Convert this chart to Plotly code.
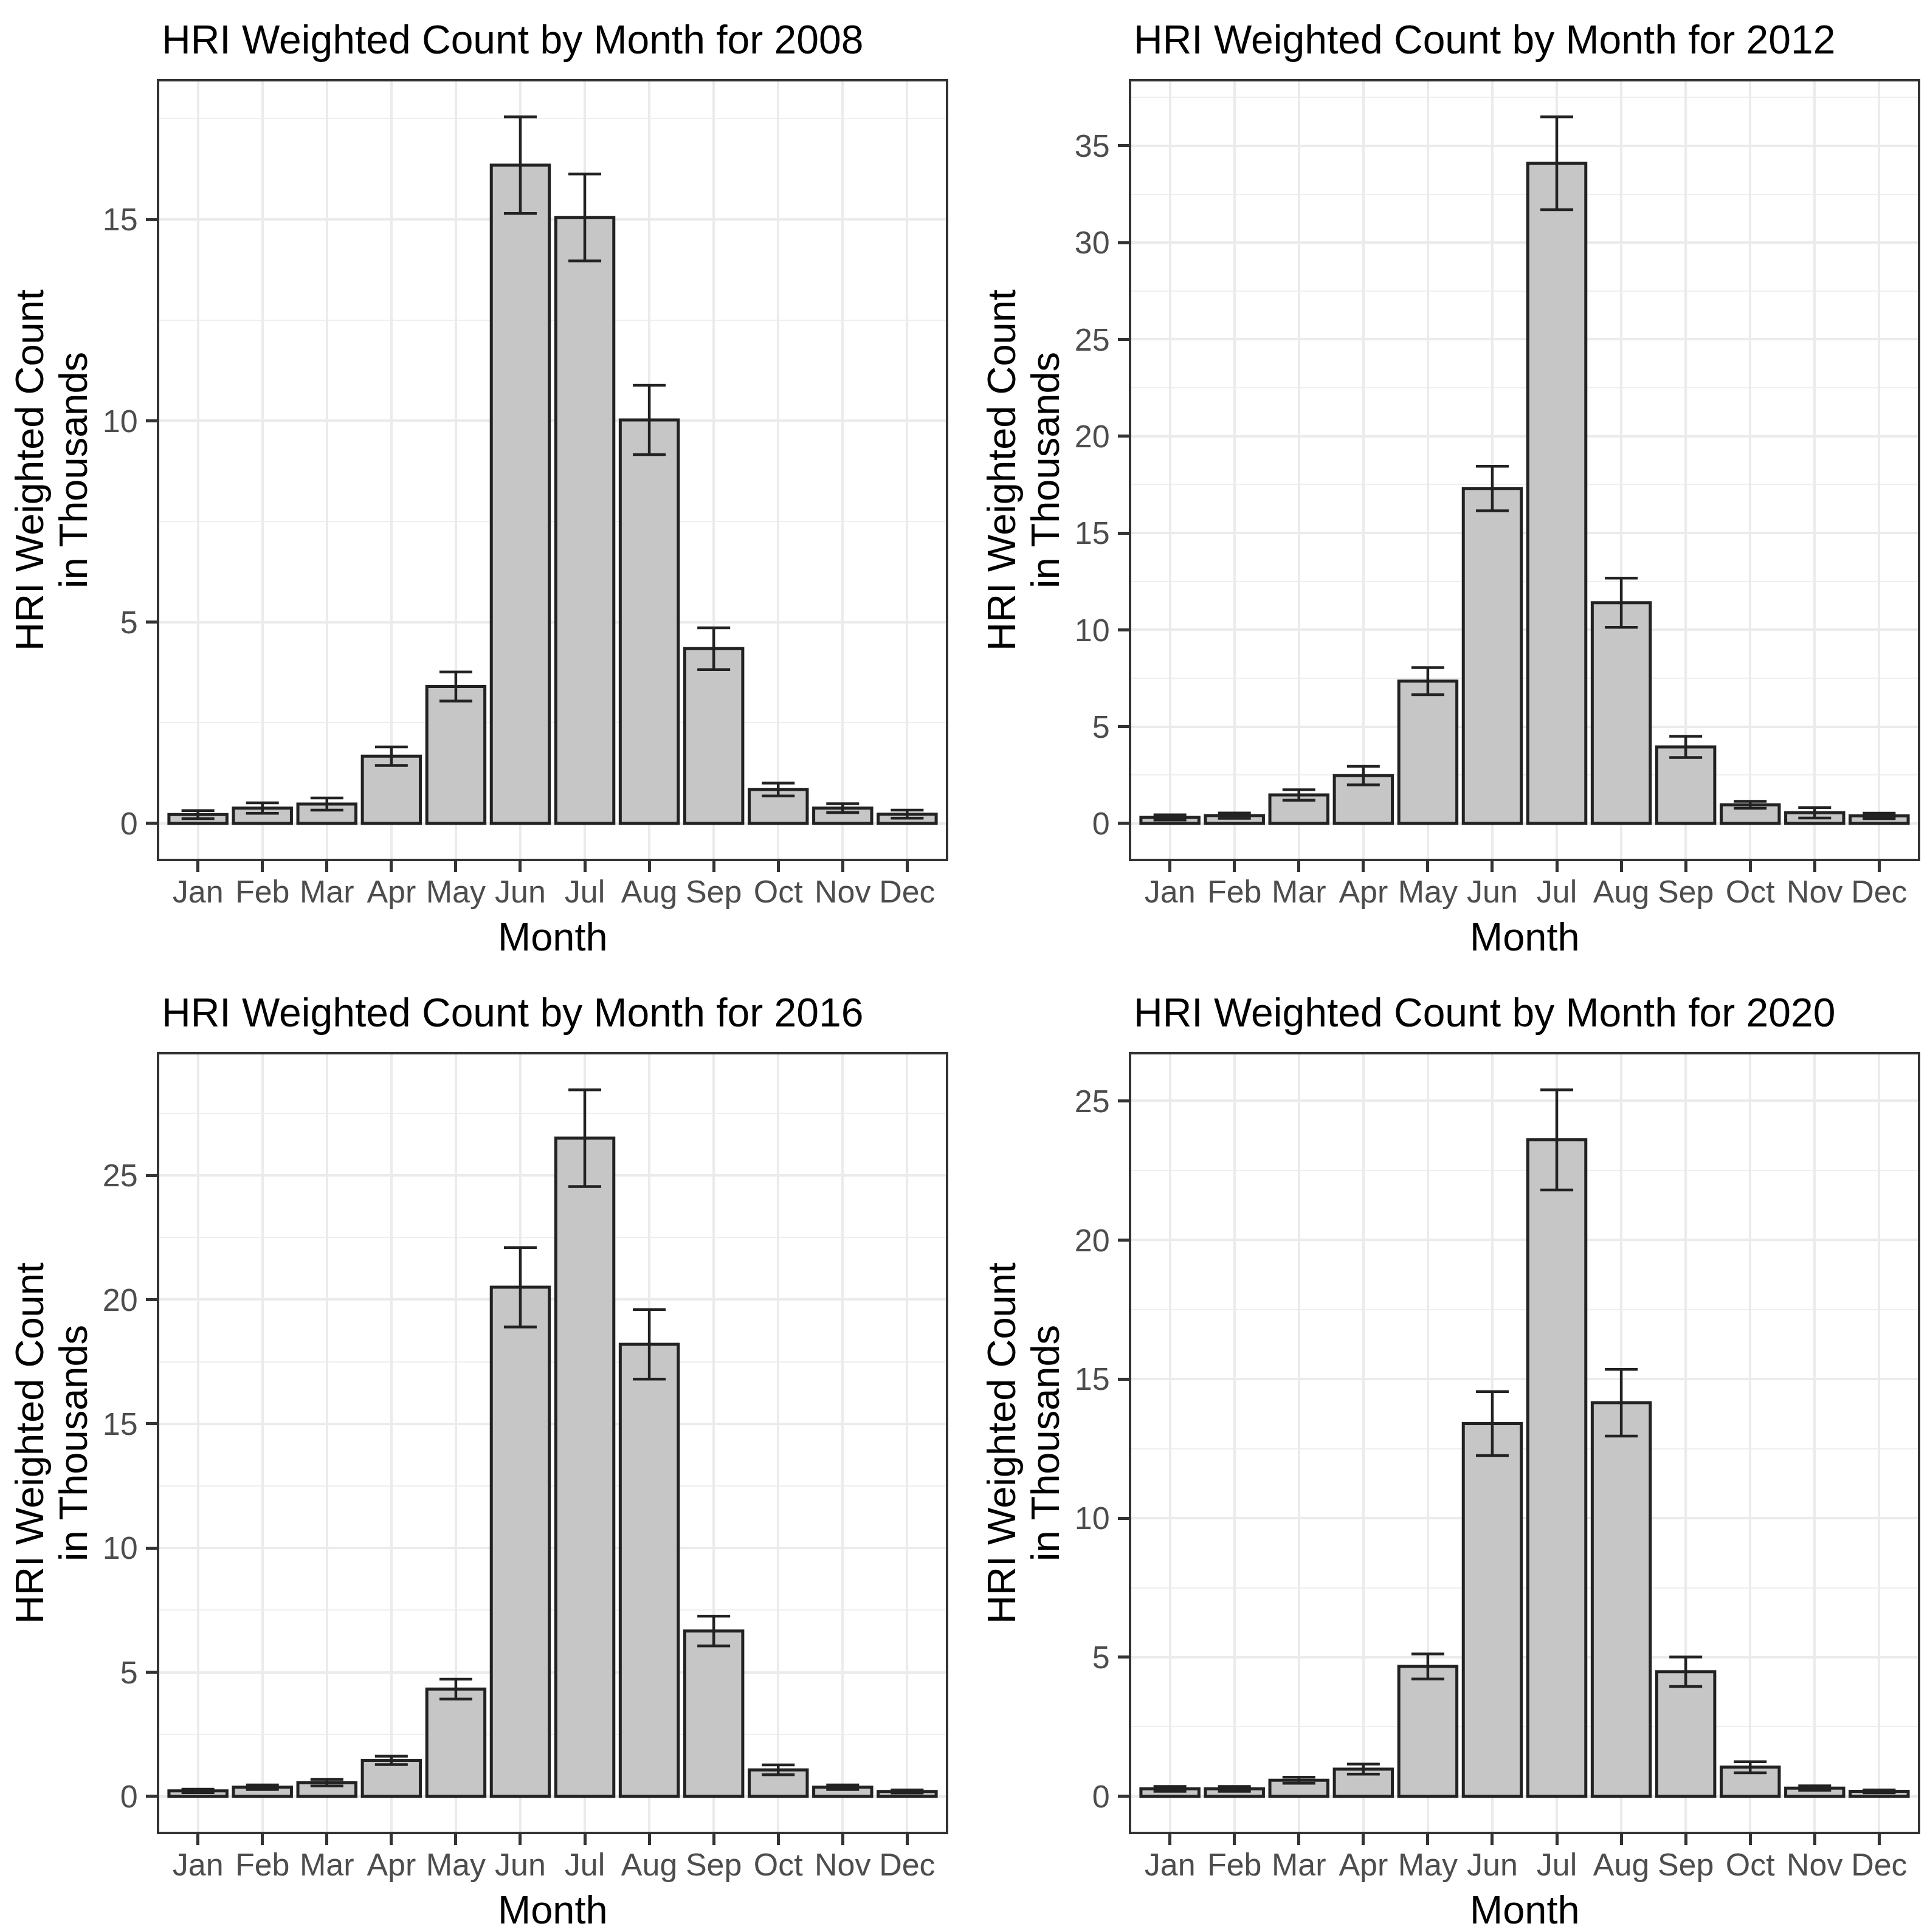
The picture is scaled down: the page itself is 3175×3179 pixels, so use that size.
import plotly.graph_objects as go

months = ["Jan", "Feb", "Mar", "Apr", "May", "Jun", "Jul", "Aug", "Sep", "Oct", "Nov", "Dec"]
years = ["2008", "2012", "2016", "2020"]

vals_2008 = [0.22, 0.38, 0.48, 1.67, 3.40, 16.35, 15.05, 10.02, 4.34, 0.84, 0.38, 0.23]
errs_2008 = [0.10, 0.13, 0.15, 0.23, 0.36, 1.20, 1.08, 0.86, 0.52, 0.16, 0.11, 0.10]

vals_2012 = [0.31, 0.40, 1.47, 2.47, 7.35, 17.30, 34.10, 11.40, 3.95, 0.96, 0.55, 0.39]
errs_2012 = [0.13, 0.14, 0.27, 0.48, 0.70, 1.15, 2.40, 1.27, 0.55, 0.18, 0.27, 0.14]

vals_2016 = [0.22, 0.37, 0.55, 1.45, 4.32, 20.50, 26.50, 18.20, 6.66, 1.07, 0.37, 0.20]
errs_2016 = [0.07, 0.09, 0.13, 0.17, 0.40, 1.60, 1.95, 1.40, 0.60, 0.20, 0.09, 0.06]

vals_2020 = [0.27, 0.27, 0.58, 0.98, 4.67, 13.40, 23.60, 14.15, 4.48, 1.05, 0.30, 0.18]
errs_2020 = [0.09, 0.09, 0.11, 0.18, 0.45, 1.15, 1.80, 1.20, 0.53, 0.20, 0.08, 0.05]

series = [(vals_2008, errs_2008), (vals_2012, errs_2012), (vals_2016, errs_2016), (vals_2020, errs_2020)]

W, H = 3175, 3179
FONT = "Liberation Sans, Arial, sans-serif"

# panel pixel boxes
COL_OFF = 1599
ROW_OFF = 1601
col_x = [(254, 1548), (254 + COL_OFF, 1548 + COL_OFF)]
row_y = [(126, 1405), (126 + ROW_OFF, 1405 + ROW_OFF)]

fig = go.Figure()
annotations = []

for i, (yr, (vals, errs)) in enumerate(zip(years, series)):
    r, c = divmod(i, 2)
    n = i + 1
    xa = "x" if n == 1 else f"x{n}"
    ya = "y" if n == 1 else f"y{n}"
    fig.add_trace(go.Bar(
        x=months, y=vals, xaxis=xa, yaxis=ya, width=0.9,
        marker=dict(color="#C6C6C6", line=dict(color="#222222", width=5)),
        error_y=dict(type="data", array=errs, visible=True, color="#222222",
                     thickness=4.5, width=27),
        showlegend=False, hoverinfo="skip",
    ))
    top = max(v + e for v, e in zip(vals, errs))
    yrange = [-0.05 * top, 1.05 * top]
    x0, x1 = col_x[c]
    y0, y1 = row_y[r]
    xkey = "xaxis" if n == 1 else f"xaxis{n}"
    ykey = "yaxis" if n == 1 else f"yaxis{n}"
    fig.layout[xkey] = dict(
        domain=[x0 / W, x1 / W], anchor=ya, type="category",
        range=[-0.6, 11.6], showgrid=True, gridcolor="#EBEBEB", gridwidth=3.5,
        showline=True, mirror=True, linecolor="#333333", linewidth=4,
        ticks="outside", ticklen=18, tickwidth=4.5, tickcolor="#333333",
        tickfont=dict(family=FONT, size=52, color="#4D4D4D"),
        ticklabelstandoff=-12,
        zeroline=False, fixedrange=True,
    )
    fig.layout[ykey] = dict(
        domain=[1 - y1 / H, 1 - y0 / H], anchor=xa, range=yrange,
        dtick=5, tick0=0, showgrid=True, gridcolor="#EBEBEB", gridwidth=3.5,
        minor=dict(dtick=2.5, tick0=0, showgrid=True, gridcolor="#EFEFEF", gridwidth=1.8),
        showline=True, mirror=True, linecolor="#333333", linewidth=4,
        ticks="outside", ticklen=18, tickwidth=4.5, tickcolor="#333333",
        tickfont=dict(family=FONT, size=52, color="#4D4D4D"),
        ticklabelstandoff=3,
        zeroline=False, fixedrange=True,
    )
    # panel title (baseline 80 px; middle = baseline - 0.3465 em)
    annotations.append(dict(
        text=f"HRI Weighted Count by Month for {yr}", xref="paper", yref="paper",
        x=(256 + c * COL_OFF) / W, y=1 - (57 + r * ROW_OFF) / H,
        xanchor="left", yanchor="middle",
        showarrow=False, font=dict(family=FONT, size=66, color="#000000"),
    ))
    # x-axis title (baseline 1556 px)
    annotations.append(dict(
        text="Month", xref="paper", yref="paper",
        x=((x0 + x1) / 2) / W, y=1 - (1533.5 + r * ROW_OFF) / H,
        xanchor="center", yanchor="middle", showarrow=False,
        font=dict(family=FONT, size=65, color="#000000"),
    ))
    # y-axis title (two lines)
    yc = 1 - ((y0 + y1) / 2) / H
    for txt, px in (("HRI Weighted Count", 40.5), ("in Thousands", 112.5)):
        annotations.append(dict(
            text=txt, xref="paper", yref="paper",
            x=(px + c * COL_OFF) / W, y=yc, xanchor="center", yanchor="middle",
            textangle=-90, showarrow=False,
            font=dict(family=FONT, size=65, color="#000000"),
        ))

fig.update_layout(
    width=W, height=H, margin=dict(l=0, r=0, t=0, b=0),
    paper_bgcolor="white", plot_bgcolor="white",
    annotations=annotations, bargap=0.1,
)

fig.write_html("out.html")
